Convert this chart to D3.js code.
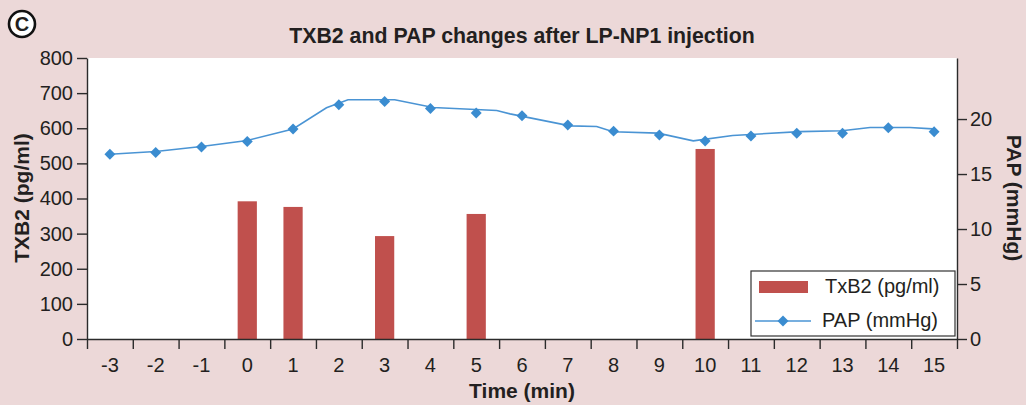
<!DOCTYPE html>
<html>
<head>
<meta charset="utf-8">
<script src="https://cdn.jsdelivr.net/npm/d3@7/dist/d3.min.js"></script>
<style>
  html, body { margin: 0; padding: 0; background: #ecd8d8; }
  svg { display: block; }
  text { font-family: "Liberation Sans", Arial, sans-serif; fill: #231f20; }
</style>
</head>
<body>
<svg id="chart" width="1026" height="405"></svg>
<script>
// Time points (min) shown on the x axis
const times = [-3, -2, -1, 0, 1, 2, 3, 4, 5, 6, 7, 8, 9, 10, 11, 12, 13, 14, 15];

// TXB2 measurements (pg/ml)
const txbTimes = [0, 1, 3, 5, 10];
const txbValues = [392, 376, 293, 356, 541];

// PAP readings (mmHg) at each minute
const papValues = [16.8, 16.95, 17.45, 17.95, 19.1, 21.3, 21.6, 20.95, 20.55, 20.3,
                   19.45, 18.9, 18.55, 18.0, 18.45, 18.7, 18.7, 19.2, 18.85];

// PAP trace drawn between the readings: time (min) and pressure (mmHg)
const traceTimes = [-3, -2, -1, 0, 1, 1.73, 2.2, 3.22, 4.06, 5.45, 5.74, 7.05, 7.63, 7.99,
                    8.97, 9.74, 10.6, 12.07, 12.99, 13.6, 14.47, 14.97];
const traceValues = [16.8, 17.05, 17.5, 18.05, 19.1, 21.02, 21.75, 21.75, 21.05, 20.77, 20.47,
                     19.38, 19.32, 18.84, 18.72, 18.02, 18.5, 18.86, 18.93, 19.23, 19.23, 19.11];

// Axis ticks
const leftTicks = [0, 100, 200, 300, 400, 500, 600, 700, 800];
const rightTicks = [0, 5, 10, 15, 20];

const title = "TXB2 and PAP changes after LP-NP1 injection";

const svg = d3.select("#chart");
const plot = { left: 87, right: 957, top: 58, bottom: 339 };
const ink = "#2b2b2b";
const barColor = "#c0504d";
const lineColor = "#4a94d4";
const markColor = "#3a8cd0";

// Each minute occupies one slot; marks sit at slot centres
const x = d3.scaleLinear().domain([-3.5, 15.5]).range([plot.left, plot.right]);
const yL = d3.scaleLinear().domain([0, 800]).range([plot.bottom, plot.top]);
const yR = d3.scaleLinear().domain([0, 25.55]).range([plot.bottom, plot.top]);
const slot = x(1) - x(0);

// Plot background
svg.append("rect")
  .attr("x", plot.left).attr("y", plot.top)
  .attr("width", plot.right - plot.left).attr("height", plot.bottom - plot.top)
  .attr("fill", "#ffffff");

// Bars
svg.append("g").selectAll("rect")
  .data(txbTimes.map((t, i) => ({ t, v: txbValues[i] })))
  .join("rect")
  .attr("x", d => x(d.t) - slot * 0.21)
  .attr("width", slot * 0.42)
  .attr("y", d => yL(d.v))
  .attr("height", d => yL(0) - yL(d.v))
  .attr("fill", barColor);

// PAP trace
const line = d3.line().x(d => x(d.t)).y(d => yR(d.v));
svg.append("path")
  .datum(traceTimes.map((t, i) => ({ t, v: traceValues[i] })))
  .attr("d", line)
  .attr("fill", "none")
  .attr("stroke", lineColor)
  .attr("stroke-width", 1.6);

// PAP markers
const diamond = d3.symbol().type(d3.symbolSquare).size(60);
svg.append("g").selectAll("path")
  .data(times.map((t, i) => ({ t, v: papValues[i] })))
  .join("path")
  .attr("d", diamond)
  .attr("transform", d => `translate(${x(d.t)},${yR(d.v)}) rotate(45)`)
  .attr("fill", markColor);

// Left axis
const gL = svg.append("g")
  .attr("transform", `translate(${plot.left},0)`)
  .call(d3.axisLeft(yL).tickValues(leftTicks).tickSize(10).tickPadding(4).tickSizeOuter(0));
// Right axis
const gR = svg.append("g")
  .attr("transform", `translate(${plot.right},0)`)
  .call(d3.axisRight(yR).tickValues(rightTicks).tickSize(10).tickPadding(3).tickSizeOuter(0));
// Bottom axis: ticks on slot edges, labels at slot centres
const edges = d3.range(-3.5, 16, 1);
const gB = svg.append("g")
  .attr("transform", `translate(0,${plot.bottom})`)
  .call(d3.axisBottom(x).tickValues(edges).tickSize(10).tickFormat("").tickSizeOuter(0));

[gL, gR, gB].forEach(g => {
  g.select(".domain").attr("stroke", ink).attr("stroke-width", 1.4);
  g.selectAll(".tick line").attr("stroke", ink).attr("stroke-width", 1.4);
  g.selectAll(".tick text").attr("font-size", 20).attr("fill", "#231f20")
    .style("font-family", "'Liberation Sans', Arial, sans-serif");
});

svg.append("g").selectAll("text")
  .data(times)
  .join("text")
  .attr("x", d => x(d))
  .attr("y", 372)
  .attr("text-anchor", "middle")
  .attr("font-size", 20)
  .text(d => d);

// Titles
svg.append("text")
  .attr("x", 522).attr("y", 43)
  .attr("text-anchor", "middle")
  .attr("font-size", 21.3).attr("font-weight", "bold")
  .text(title);

svg.append("text")
  .attr("x", 522).attr("y", 398)
  .attr("text-anchor", "middle")
  .attr("font-size", 21).attr("font-weight", "bold")
  .text("Time (min)");

svg.append("text")
  .attr("transform", "translate(29,198) rotate(-90)")
  .attr("text-anchor", "middle")
  .attr("font-size", 21).attr("font-weight", "bold")
  .text("TXB2 (pg/ml)");

svg.append("text")
  .attr("transform", "translate(1007,198) rotate(90)")
  .attr("text-anchor", "middle")
  .attr("font-size", 21).attr("font-weight", "bold")
  .text("PAP (mmHg)");

// Panel badge
const badge = svg.append("g").attr("transform", "translate(22,24)");
badge.append("circle").attr("r", 13).attr("fill", "#ffffff").attr("stroke", "#111").attr("stroke-width", 2.6);
badge.append("text")
  .attr("text-anchor", "middle").attr("y", 7)
  .attr("font-size", 20).attr("font-weight", "bold")
  .text("C");

// Legend
const lg = svg.append("g").attr("transform", "translate(751,271)");
lg.append("rect").attr("width", 204).attr("height", 65)
  .attr("fill", "#ffffff").attr("stroke", "#333").attr("stroke-width", 1.2);
lg.append("rect").attr("x", 8).attr("y", 10).attr("width", 49).attr("height", 12).attr("fill", barColor);
lg.append("text").attr("x", 74).attr("y", 22).attr("font-size", 20).text("TxB2 (pg/ml)");
lg.append("line").attr("x1", 4).attr("x2", 60).attr("y1", 50).attr("y2", 50)
  .attr("stroke", lineColor).attr("stroke-width", 1.6);
lg.append("path").attr("d", diamond).attr("transform", "translate(32,50) rotate(45)").attr("fill", markColor);
lg.append("text").attr("x", 71).attr("y", 56).attr("font-size", 20).text("PAP (mmHg)");
</script>
</body>
</html>
